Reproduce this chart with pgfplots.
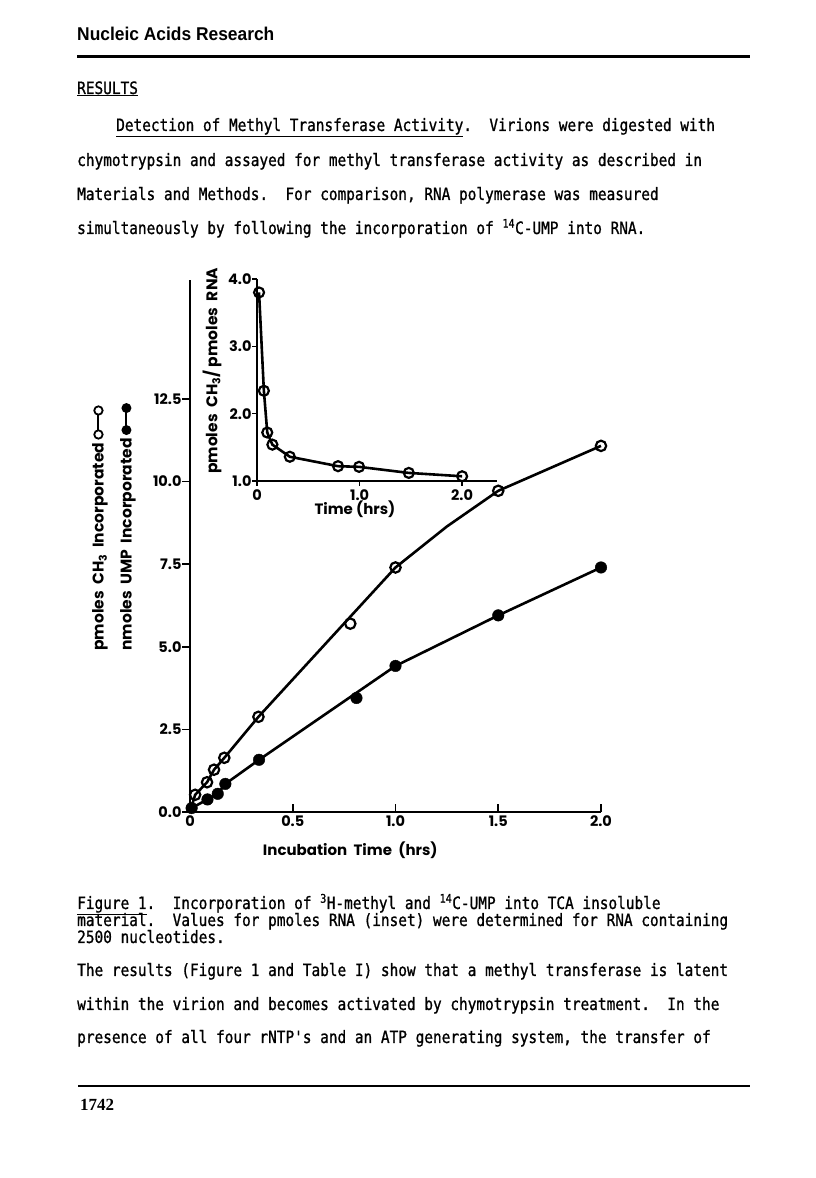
\documentclass[border=0pt]{standalone}
\usepackage{fontspec}
\usepackage{pgfplots}
\pgfplotsset{compat=1.18}
\setmainfont{Liberation Serif}
\newfontfamily\tw{DejaVu Sans Mono}[FakeStretch=0.848,FakeBold=1]
\newfontfamily\hd{Liberation Sans}[FakeStretch=0.94]
\newfontfamily\fut{Poppins}

\newcommand\bodyfont{\tw\fontsize{17}{17}\selectfont}
\newcommand\opensym{\tikz[baseline=-0.6ex]{\draw[line width=2pt] (0,0)--(24pt,0);
  \draw[line width=1.8pt,fill=white] (0,0) circle (4.2pt) (24pt,0) circle (4.2pt);}}
\newcommand\fullsym{\tikz[baseline=-0.6ex]{\draw[line width=2pt] (0,0)--(22pt,0);
  \fill (0,0) circle (5pt) (22pt,0) circle (5pt);}}

% main figure data
\pgfplotstableread{
x y
0.025 0.52
0.083 0.90
0.117 1.28
0.167 1.64
0.333 2.88
0.78 5.70
1.0 7.40
1.5 9.72
2.0 11.08
}\methyl
\pgfplotstableread{
x y
0.008 0.12
0.085 0.38
0.135 0.55
0.172 0.85
0.336 1.58
0.81 3.45
1.0 4.42
1.5 5.95
2.0 7.40
}\ump
\pgfplotstableread{
x y
0.02 3.80
0.067 2.34
0.10 1.72
0.15 1.54
0.32 1.36
0.79 1.22
0.995 1.21
1.48 1.12
2.0 1.07
}\ratio

\begin{document}
\begin{tikzpicture}
\path[use as bounding box] (0pt,0pt) rectangle (816pt,1178pt);

% page text
\node[anchor=base west,inner sep=0] at (77pt,1137pt) {\hd\bfseries\fontsize{18.5}{18.5}\selectfont Nucleic Acids Research};
\draw[line width=3pt] (77pt,1121pt) -- (750pt,1121pt);
\begin{scope}[every node/.style={anchor=base west,inner sep=0,font=\bodyfont}]
\node at (77pt,1084pt) {\underline{RESULTS}};
\node at (116pt,1047pt) {\underline{Detection of Methyl Transferase Activity}.\ \ Virions were digested with};
\node at (77pt,1012pt) {chymotrypsin and assayed for methyl transferase activity as described in};
\node at (77pt,978pt) {Materials and Methods.\ \ For comparison, RNA polymerase was measured};
\node at (77pt,944pt) {simultaneously by following the incorporation of \textsuperscript{14}C-UMP into RNA.};
\node at (77pt,269pt) {\underline{Figure 1}.\ \ Incorporation of \textsuperscript{3}H-methyl and \textsuperscript{14}C-UMP into TCA insoluble};
\node at (77pt,252pt) {material.\ \ Values for pmoles RNA (inset) were determined for RNA containing};
\node at (77pt,235pt) {2500 nucleotides.};
\node at (77pt,202pt) {The results (Figure 1 and Table I) show that a methyl transferase is latent};
\node at (77pt,168pt) {within the virion and becomes activated by chymotrypsin treatment.\ \ In the};
\node at (77pt,135pt) {presence of all four rNTP's and an ATP generating system, the transfer of};
\end{scope}
\draw[line width=2.5pt] (78pt,92pt) -- (750pt,92pt);
\node[anchor=base west,inner sep=0] at (80pt,67pt) {\bfseries\fontsize{17}{17}\selectfont 1742};

% main chart
\begin{axis}[
  anchor=south west, at={(190pt,366pt)},
  width=411pt, height=532pt, scale only axis,
  xmin=0, xmax=2, ymin=0, ymax=16.1,
  axis lines*=left, clip=false,
  axis line style={line width=2.2pt},
  xtick={0,0.5,1,1.5,2}, xticklabels={0,0.5,1.0,1.5,2.0},
  ytick={0,2.5,5,7.5,10,12.5}, yticklabels={0.0,2.5,5.0,7.5,10.0,12.5},
  tick align=inside, major tick length=8pt,
  every tick/.style={line width=1.6pt,black},
  ytick style={xshift=-8pt},
  yticklabel style={xshift=-5pt},
  ticklabel style={font=\fut\bfseries\fontsize{14.5}{14.5}\selectfont},
  xlabel={Incubation\ \ Time\ \ (hrs)},
  xlabel style={at={(axis description cs:0.39,-0.071)},anchor=center,font=\fut\bfseries\fontsize{15}{15}\selectfont},
  ylabel={pmoles\ \ CH\textsubscript{3}\ \ Incorporated\ \opensym\\nmoles\ \ UMP\ \ Incorporated\ \fullsym},
  ylabel style={at={(axis description cs:-0.185,0.536)},anchor=center,align=left,
    font=\fut\bfseries\fontsize{15.5}{28}\selectfont},
]
\addplot[black, line width=2.6pt] coordinates {(0,0) (0.025,0.52) (0.083,0.90) (0.117,1.28) (0.167,1.64) (0.333,2.88) (1.0,7.40) (1.25,8.64) (1.5,9.72) (2.0,11.08)};
\addplot[black, line width=2.6pt] coordinates {(0,0) (0.008,0.12) (0.085,0.38) (0.135,0.55) (0.172,0.85) (0.336,1.58) (1.0,4.42) (1.5,5.95) (2.0,7.40)};
\addplot[only marks, mark=o, mark size=5.2pt, mark options={line width=2.2pt, fill=white, draw=black}] table {\methyl};
\addplot[only marks, mark=*, mark size=5.8pt, mark options={fill=black, draw=black}] table {\ump};
\end{axis}

% inset
\begin{axis}[
  anchor=south west, at={(257pt,697pt)},
  width=240pt, height=202pt, scale only axis,
  xmin=0, xmax=2.34, ymin=1, ymax=4,
  axis lines*=left, clip=false,
  axis line style={line width=2.2pt},
  xtick={0,1,2}, xticklabels={0,1.0,2.0},
  ytick={1,2,3,4}, yticklabels={1.0,2.0,3.0,4.0},
  tick align=outside, major tick length=5pt,
  every tick/.style={line width=1.6pt,black},
  ticklabel style={font=\fut\bfseries\fontsize{14.5}{14.5}\selectfont},
  yticklabel style={xshift=3pt},
  xlabel={Time (hrs)},
  xlabel style={at={(axis description cs:0.408,-0.139)},anchor=center,font=\fut\bfseries\fontsize{15}{15}\selectfont},
  ylabel={pmoles\ \ CH\textsubscript{3}/\ pmoles\ \ RNA},
  ylabel style={at={(axis description cs:-0.1875,0.545)},anchor=center,font=\fut\bfseries\fontsize{15.5}{15.5}\selectfont},
]
\addplot[black, line width=2.6pt, mark=o, mark size=5pt, mark options={line width=2.2pt, fill=white}] table {\ratio};
\end{axis}
\end{tikzpicture}
\end{document}
